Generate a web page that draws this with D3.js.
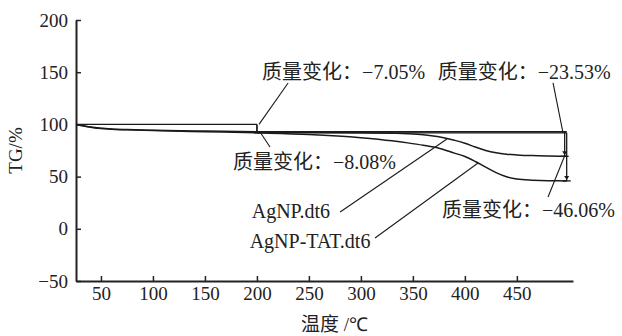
<!DOCTYPE html>
<html>
<head>
<meta charset="utf-8">
<script src="https://cdn.jsdelivr.net/npm/d3@7"></script>
<style>
  body { margin: 0; background: #fff; }
  text { font-family: "Liberation Serif", "Noto Sans CJK SC", serif; fill: #222; }
  .cn { font-family: "Noto Sans CJK SC", sans-serif; }
  .num { font-family: "Liberation Serif", serif; }
  .axis path, .axis line { stroke: #222; }
</style>
</head>
<body>
<div id="chart-area"></div>
<script>
const margin = { top: 20, right: 49, bottom: 55, left: 76 };
const width = 622 - margin.left - margin.right;
const height = 336 - margin.top - margin.bottom;

// temperature (°C) and TG (%)
const temps = [26, 30, 35, 40, 50, 60, 75, 100, 150, 200, 250, 300, 330, 345, 360, 375, 390, 400, 410, 420, 430, 440, 450, 465, 480, 498];
const agnp = [100, 99.2, 98.2, 97.4, 96.3, 95.6, 95, 94.4, 93.6, 92.9, 92.4, 91.9, 91.5, 91.1, 90.2, 88.2, 84.8, 82, 78.3, 75, 72.8, 71.5, 70.8, 70.1, 69.7, 69.4];
const agnpTat = [100, 99.2, 98.2, 97.3, 96.1, 95.4, 94.8, 94.1, 93, 91.9, 90.4, 87.3, 84.3, 82.3, 80, 77.2, 72.5, 69.3, 64.5, 59, 53.8, 49.8, 47.6, 46.5, 46, 45.9];

const xTicks = [50, 100, 150, 200, 250, 300, 350, 400, 450];
const yTicks = [-50, 0, 50, 100, 150, 200];

// step annotations: first loss up to 200 °C, second loss to the end
const stepT = [200, 496];
const firstLoss = [7.05, 8.08];
const secondLoss = [23.53, 46.06];

// labels: text, anchor (T, TG), pointer from / to
const labels = [
  { text: "质量变化：−7.05%", t: 205, v: 143.5, from: [230, 139.7], to: [202, 100] },
  { text: "质量变化：−23.53%", t: 374, v: 143.5, from: [484.8, 139.7], to: [494.4, 91.8] },
  { text: "质量变化：−8.08%", t: 177, v: 57.3, from: [212.6, 78.4], to: [203, 92.7] },
  { text: "AgNP.dt6", t: 195, v: 10.3, from: [280, 16.1], to: [382.8, 86] },
  { text: "AgNP-TAT.dt6", t: 193, v: -18.4, from: [313.6, -8.8], to: [412.7, 63] },
  { text: "质量变化：−46.06%", t: 378, v: 11.3, from: [480, 30.5], to: [496.3, 70.7] }
];

const svg = d3.select("#chart-area")
  .append("svg")
  .attr("width", width + margin.left + margin.right)
  .attr("height", height + margin.top + margin.bottom);

const g = svg.append("g")
  .attr("transform", `translate(${margin.left}, ${margin.top})`);

const x = d3.scaleLinear()
  .domain([26, 504])
  .range([0, width]);

const y = d3.scaleLinear()
  .domain([-50, 200])
  .range([height, 0]);

g.append("g")
  .attr("class", "axis")
  .attr("transform", `translate(0, ${height})`)
  .call(d3.axisBottom(x).tickValues(xTicks).tickSizeInner(-5).tickSizeOuter(0).tickPadding(6));

g.append("g")
  .attr("class", "axis")
  .call(d3.axisLeft(y).tickValues(yTicks).tickFormat(d => d < 0 ? "−" + Math.abs(d) : d)
    .tickSizeInner(-5).tickSizeOuter(0).tickPadding(8));

g.selectAll(".axis .domain").attr("stroke-width", 2);
g.selectAll(".axis .tick line").attr("stroke-width", 1.5);
g.selectAll(".axis text")
  .attr("font-size", 19)
  .attr("font-family", "Liberation Serif, serif");

g.append("text")
  .attr("x", -(y(75)))
  .attr("y", -54)
  .attr("transform", "rotate(-90)")
  .attr("text-anchor", "middle")
  .attr("font-size", 19)
  .text("TG/%");

// split mixed text so Latin parts stay serif
function mixed(sel, str) {
  str.match(/[\u3000-\u9fff\uff00-\uffef]+|[^\u3000-\u9fff\uff00-\uffef]+/g).forEach(part => {
    sel.append("tspan")
      .attr("class", /[\u3000-\u9fff\uff00-\uffef]/.test(part) ? "cn" : "num")
      .text(part);
  });
}

const xTitle = g.append("text")
  .attr("x", width / 2 + 10)
  .attr("y", height + 50)
  .attr("text-anchor", "middle")
  .attr("font-size", 19);
mixed(xTitle, "温度 /℃");

const line = d3.line()
  .x((d, i) => x(temps[i]))
  .y(d => y(d))
  .curve(d3.curveMonotoneX);

[agnp, agnpTat].forEach(series => {
  g.append("path")
    .datum(series)
    .attr("fill", "none")
    .attr("stroke", "#1a1a1a")
    .attr("stroke-width", 1.5)
    .attr("d", line);
});

// step markers
const marks = g.append("g")
  .attr("stroke", "#1a1a1a")
  .attr("stroke-width", 1.3)
  .attr("fill", "none");

marks.append("line")
  .attr("x1", x(temps[0])).attr("x2", x(stepT[0]))
  .attr("y1", y(100)).attr("y2", y(100));

firstLoss.forEach((loss, i) => {
  const lvl = 100 - loss;
  const end = lvl - secondLoss[i];
  marks.append("line")
    .attr("x1", x(stepT[0])).attr("x2", x(stepT[0]))
    .attr("y1", y(100)).attr("y2", y(lvl));
  marks.append("line")
    .attr("x1", x(stepT[0]) - 3).attr("x2", x(stepT[0]) + 3)
    .attr("y1", y(lvl)).attr("y2", y(lvl));
  marks.append("line")
    .attr("x1", x(stepT[0])).attr("x2", x(temps[temps.length - 1]))
    .attr("y1", y(lvl)).attr("y2", y(lvl));
  const xs = x(stepT[1]) + i * 2;
  marks.append("line")
    .attr("x1", xs).attr("x2", xs)
    .attr("y1", y(lvl)).attr("y2", y(end));
  marks.append("line")
    .attr("x1", xs - 4).attr("x2", xs + 4)
    .attr("y1", y(end)).attr("y2", y(end));
  marks.append("path")
    .attr("fill", "#1a1a1a")
    .attr("stroke", "none")
    .attr("d", `M${xs - 2.5},${y(end) - 5}L${xs + 2.5},${y(end) - 5}L${xs},${y(end) - 1}Z`);
});

// labels and pointers
labels.forEach(d => {
  g.append("line")
    .attr("x1", x(d.from[0])).attr("y1", y(d.from[1]))
    .attr("x2", x(d.to[0])).attr("y2", y(d.to[1]))
    .attr("stroke", "#1a1a1a")
    .attr("stroke-width", 1.1);
  const t = g.append("text")
    .attr("x", x(d.t))
    .attr("y", y(d.v))
    .attr("font-size", 20);
  mixed(t, d.text);
});
</script>
</body>
</html>
